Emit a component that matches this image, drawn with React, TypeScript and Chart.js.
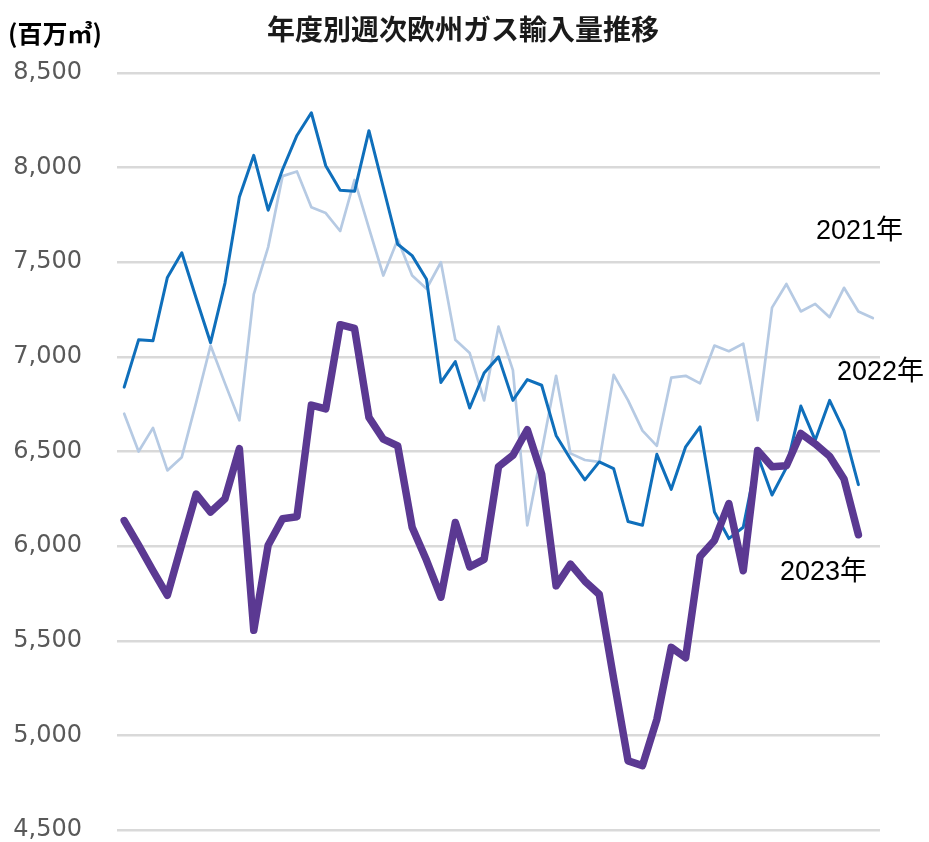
import React, { useEffect, useRef } from "react";
import { Chart, registerables } from "chart.js";

Chart.register(...registerables);

const weeks = [
  "1", "2", "3", "4", "5", "6", "7", "8", "9", "10",
  "11", "12", "13", "14", "15", "16", "17", "18", "19", "20",
  "21", "22", "23", "24", "25", "26", "27", "28", "29", "30",
  "31", "32", "33", "34", "35", "36", "37", "38", "39", "40",
  "41", "42", "43", "44", "45", "46", "47", "48", "49", "50",
  "51", "52", "53",
];

const series2021 = [
  6700, 6500, 6625, 6400, 6470, 6760, 7060, 6860, 6665, 7330,
  7580, 7955, 7980, 7790, 7760, 7665, 7935, 7680, 7430, 7620,
  7430, 7360, 7500, 7090, 7020, 6770, 7160, 6930, 6110, 6500,
  6900, 6490, 6455, 6445, 6905, 6770, 6610, 6530, 6890, 6900,
  6860, 7060, 7030, 7070, 6665, 7260, 7385, 7240, 7280, 7210,
  7365, 7240, 7205,
];

const series2022 = [
  6840, 7090, 7085, 7420, 7550, 7310, 7075, 7390, 7845, 8065,
  7775, 7990, 8170, 8290, 8010, 7880, 7875, 8195, 7895, 7595,
  7535, 7410, 6865, 6975, 6730, 6915, 7000, 6770, 6880, 6850,
  6585, 6460, 6350, 6445, 6410, 6130, 6110, 6485, 6300, 6525,
  6630, 6180, 6040, 6100, 6480, 6270, 6415, 6740, 6560, 6770,
  6610, 6325,
];

const series2023 = [
  6135, 6005, 5870, 5740, 6010, 6275, 6180, 6250, 6515, 5555,
  6005, 6145, 6155, 6745, 6725, 7170, 7150, 6680, 6565, 6530,
  6100, 5925, 5730, 6125, 5890, 5930, 6420, 6480, 6615, 6380,
  5790, 5905, 5815, 5745, 5300, 4865, 4840, 5085, 5465, 5410,
  5945, 6030, 6225, 5870, 6505, 6420, 6425, 6595, 6540, 6475,
  6355, 6060,
];

const seriesNames = ["2021年", "2022年", "2023年"];
const chartTitle = "年度別週次欧州ガス輸入量推移";
const unitLabel = "(百万㎥)";

const textPlugin = {
  id: "textOverlay",
  afterDraw(chart: any) {
    const { ctx } = chart;
    ctx.save();
    ctx.fillStyle = "#1a1a1a";
    ctx.textBaseline = "middle";
    ctx.textAlign = "center";
    ctx.font = "bold 28px 'Noto Sans CJK JP', sans-serif";
    ctx.fillText(chartTitle, 463, 29);

    ctx.textAlign = "left";
    ctx.fillStyle = "#000";
    ctx.font = "bold 25px 'Noto Sans CJK JP', sans-serif";
    ctx.fillText(unitLabel, 8, 33);

    ctx.font = "27px 'Liberation Sans', 'Noto Sans CJK JP', sans-serif";
    ctx.fillText(seriesNames[0], 816, 232);
    ctx.fillText(seriesNames[1], 837, 373);
    ctx.fillText(seriesNames[2], 780, 573);
    ctx.restore();
  },
};

export default function App() {
  const ref = useRef<HTMLCanvasElement | null>(null);

  useEffect(() => {
    if (!ref.current) return;
    const chart = new Chart(ref.current, {
      type: "line",
      data: {
        labels: weeks,
        datasets: [
          {
            label: seriesNames[2],
            data: series2023,
            borderColor: "#5b3992",
            borderWidth: 7.5,
            order: 1,
          },
          {
            label: seriesNames[1],
            data: series2022,
            borderColor: "#0f6fbb",
            borderWidth: 3,
            order: 2,
          },
          {
            label: seriesNames[0],
            data: series2021,
            borderColor: "#b6cae3",
            borderWidth: 2.7,
            order: 3,
          },
        ].map((d) => ({
          ...d,
          pointRadius: 0,
          tension: 0,
          fill: false,
          borderJoinStyle: "round" as const,
          borderCapStyle: "round" as const,
        })),
      },
      options: {
        responsive: false,
        animation: false,
        layout: { padding: { left: 13, right: 49, top: 73, bottom: 12 } },
        plugins: {
          legend: { display: false },
          title: { display: false },
          tooltip: { enabled: false },
        },
        scales: {
          x: {
            type: "category",
            display: false,
            offset: true,
            grid: { display: false },
          },
          y: {
            min: 4500,
            max: 8500,
            afterFit: (scale: any) => {
              scale.width = 104;
              scale.paddingTop = 12;
              scale.paddingBottom = 12;
            },
            ticks: {
              stepSize: 500,
              padding: 35,
              color: "#595959",
              font: { family: "'DejaVu Sans', sans-serif", size: 24, lineHeight: 1 },
              callback: (v: any) => Number(v).toLocaleString("en-US"),
            },
            grid: { color: "#d9d9d9", lineWidth: 2.5, drawTicks: false },
            border: { display: false },
          },
        },
      },
      plugins: [textPlugin],
    });
    return () => chart.destroy();
  }, []);

  return (
    <div style={{ position: "fixed", left: 0, top: 0, width: 929, height: 842, background: "#fff" }}>
      <canvas ref={ref} width={929} height={842} style={{ display: "block" }} />
    </div>
  );
}
